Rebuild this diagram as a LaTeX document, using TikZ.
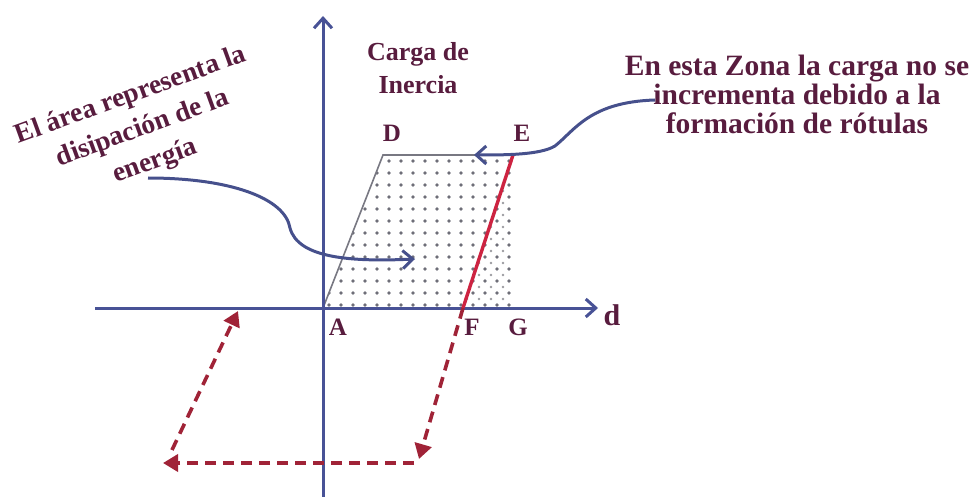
\documentclass[tikz,border=0pt]{standalone}
\usepackage{fontspec}
\setmainfont{Liberation Serif}
\usetikzlibrary{arrows.meta}
\definecolor{txtmaroon}{RGB}{88,28,62}
\definecolor{axisblue}{RGB}{72,82,150}
\definecolor{arrblue}{RGB}{70,80,140}
\definecolor{redln}{RGB}{205,35,65}
\definecolor{dashred}{RGB}{160,35,55}
\definecolor{dotgray}{RGB}{110,110,120}
\definecolor{edgegray}{RGB}{120,120,130}
\tikzset{
  axisln/.style={draw=axisblue, line width=3pt, -{Straight Barb[length=10pt,width=18pt,line width=3pt]}},
  bluearr/.style={draw=arrblue, line width=3pt, -{Straight Barb[length=10pt,width=18pt,line width=3pt]}},
  dasharr/.style={draw=dashred, line width=3.6pt, dash pattern=on 11pt off 7pt, -{Triangle[length=15pt,width=17pt]}},
  ptlbl/.style={font=\bfseries\fontsize{25}{25}\selectfont, text=txtmaroon, inner sep=0pt},
  bigtxt/.style={font=\bfseries, text=txtmaroon, align=center, inner sep=0pt}
}
\begin{document}
\begin{tikzpicture}[x=1pt,y=-1pt]
\useasboundingbox (0,0) rectangle (976,497);
% key points
\coordinate (A) at (323,308);
\coordinate (D) at (383,155);
\coordinate (E) at (513,155);
\coordinate (G) at (513,308);
\coordinate (F) at (463,308);
\coordinate (Ytop) at (323,16);
\coordinate (Ybot) at (323,497);
\coordinate (Xl) at (95,308);
\coordinate (Xr) at (598,308);
% dotted area
\begin{scope}
\clip (A)--(D)--(E)--(G)--cycle;
\foreach \x in {329,341,...,520} \foreach \y in {161,173,...,310} \fill[dotgray] (\x,\y) circle (1.8pt);
\end{scope}
\begin{scope}
\clip (F)--(E)--(G)--cycle;
\foreach \x in {335,347,...,520} \foreach \y in {167,179,...,310} \fill[dotgray!70] (\x,\y) circle (1.4pt);
\end{scope}
\draw[edgegray, line width=1.6pt] (A)--(D)--(E);
% axes
\draw[axisln] (Ybot) -- (Ytop);
\draw[axisln] (Xl) -- (Xr);
% red unloading line
\draw[redln, line width=3.4pt] (E) -- (F);
\coordinate (P1) at (419,459);
\coordinate (P2) at (414,463);
\coordinate (P3) at (163,463);
\coordinate (P4) at (172,450);
\coordinate (P5) at (238,311);
\draw[dasharr] (F) -- (P1);
\draw[dasharr] (P2) -- (P3);
\draw[dasharr] (P4) -- (P5);
% labels
\node[ptlbl] (lA) at (338,327) {A};
\node[ptlbl] (lF) at (472,327) {F};
\node[ptlbl] (lG) at (518,327) {G};
\node[ptlbl] (lD) at (392,133) {D};
\node[ptlbl] (lE) at (522,133) {E};
\node[ptlbl, font=\bfseries\fontsize{30}{30}\selectfont] (ld) at (612,315) {d};
\node[bigtxt, font=\bfseries\fontsize{26}{33}\selectfont] (carga) at (418,68) {Carga de\\Inercia};
\node[bigtxt, font=\bfseries\fontsize{27.5}{35}\selectfont, rotate=20] (area) at (143,129) {El área representa la\\disipación de la\\energía};
\node[bigtxt, font=\bfseries\fontsize{29.5}{29}\selectfont] (zona) at (797,94) {En esta Zona la carga no se\\incrementa debido a la\\formación de rótulas};
% blue curved arrows
\coordinate (c1s) at (148,178);
\coordinate (c1m) at (290,228);
\coordinate (c1e) at (415,259);
\draw[bluearr] (c1s) .. controls (230,178) and (285,198) .. (c1m) .. controls (298,258) and (350,262) .. (c1e);
\coordinate (c2s) at (655,100);
\coordinate (c2m) at (555,146);
\coordinate (c2e) at (474,155);
\draw[bluearr] (c2s) .. controls (590,102) and (575,130) .. (c2m) .. controls (540,155) and (505,155) .. (c2e);
\end{tikzpicture}
\end{document}
